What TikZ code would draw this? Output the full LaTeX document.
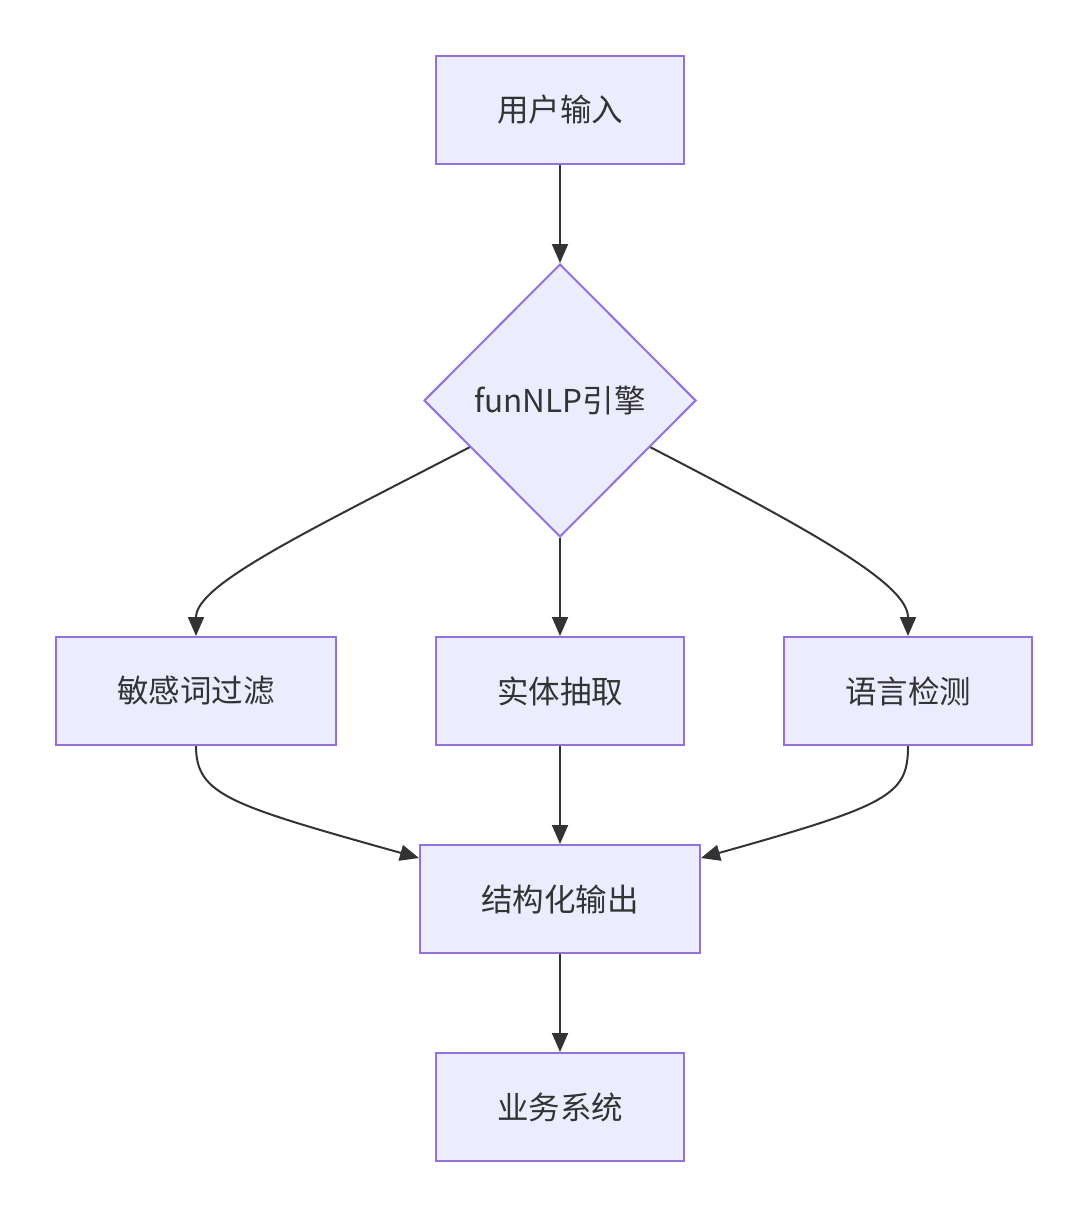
\documentclass[tikz,border=0pt]{standalone}
\usepackage{fontspec}
\setmainfont{Noto Sans CJK SC}
\usetikzlibrary{arrows.meta,shapes.geometric,calc}
\definecolor{boxfill}{HTML}{ECECFF}
\definecolor{boxline}{HTML}{9370DB}
\definecolor{edge}{HTML}{333333}
\tikzset{
  box/.style={draw=boxline, fill=boxfill, line width=2pt, minimum height=108pt, inner sep=0pt, text=edge, font=\fontsize{31.5}{37}\selectfont},
  decide/.style={diamond, draw=boxline, fill=boxfill, line width=2pt, minimum width=272pt, minimum height=273pt, inner sep=0pt, text=edge, font=\fontsize{31.5}{37}\selectfont},
  conn/.style={draw=edge, line width=2pt, -{Triangle[length=19pt,width=16pt]}}
}
\begin{document}
\begin{tikzpicture}[x=1pt,y=-1pt]
\useasboundingbox (0,0) rectangle (1088,1217);
\node[box, minimum width=248pt] (in) at (560,110) {用户输入};
\node[decide] (d) at (560,400.5) {funNLP引擎};
\node[box, minimum width=280pt] (f) at (196,691) {敏感词过滤};
\node[box, minimum width=248pt] (e) at (560,691) {实体抽取};
\node[box, minimum width=248pt] (l) at (908,691) {语言检测};
\node[box, minimum width=280pt] (o) at (560,899) {结构化输出};
\node[box, minimum width=248pt] (b) at (560,1107) {业务系统};
\coordinate (dl) at ($(d.west)!0.34!(d.south)$);
\coordinate (dr) at ($(d.east)!0.34!(d.south)$);
\coordinate (ol) at ($(o.west)+(0,-41)$);
\coordinate (or) at ($(o.east)+(0,-41)$);
\draw[conn] (in.south) -- (d.north);
\draw[conn] (d.south) -- (e.north);
\draw[conn] (dl) .. controls (300,535) and (196,585) .. (f.north);
\draw[conn] (dr) .. controls (820,535) and (908,585) .. (l.north);
\draw[conn] (e.south) -- (o.north);
\draw[conn] (f.south) .. controls (196,795) and (230,805) .. (ol);
\draw[conn] (l.south) .. controls (908,795) and (890,805) .. (or);
\draw[conn] (o.south) -- (b.north);
\end{tikzpicture}
\end{document}
